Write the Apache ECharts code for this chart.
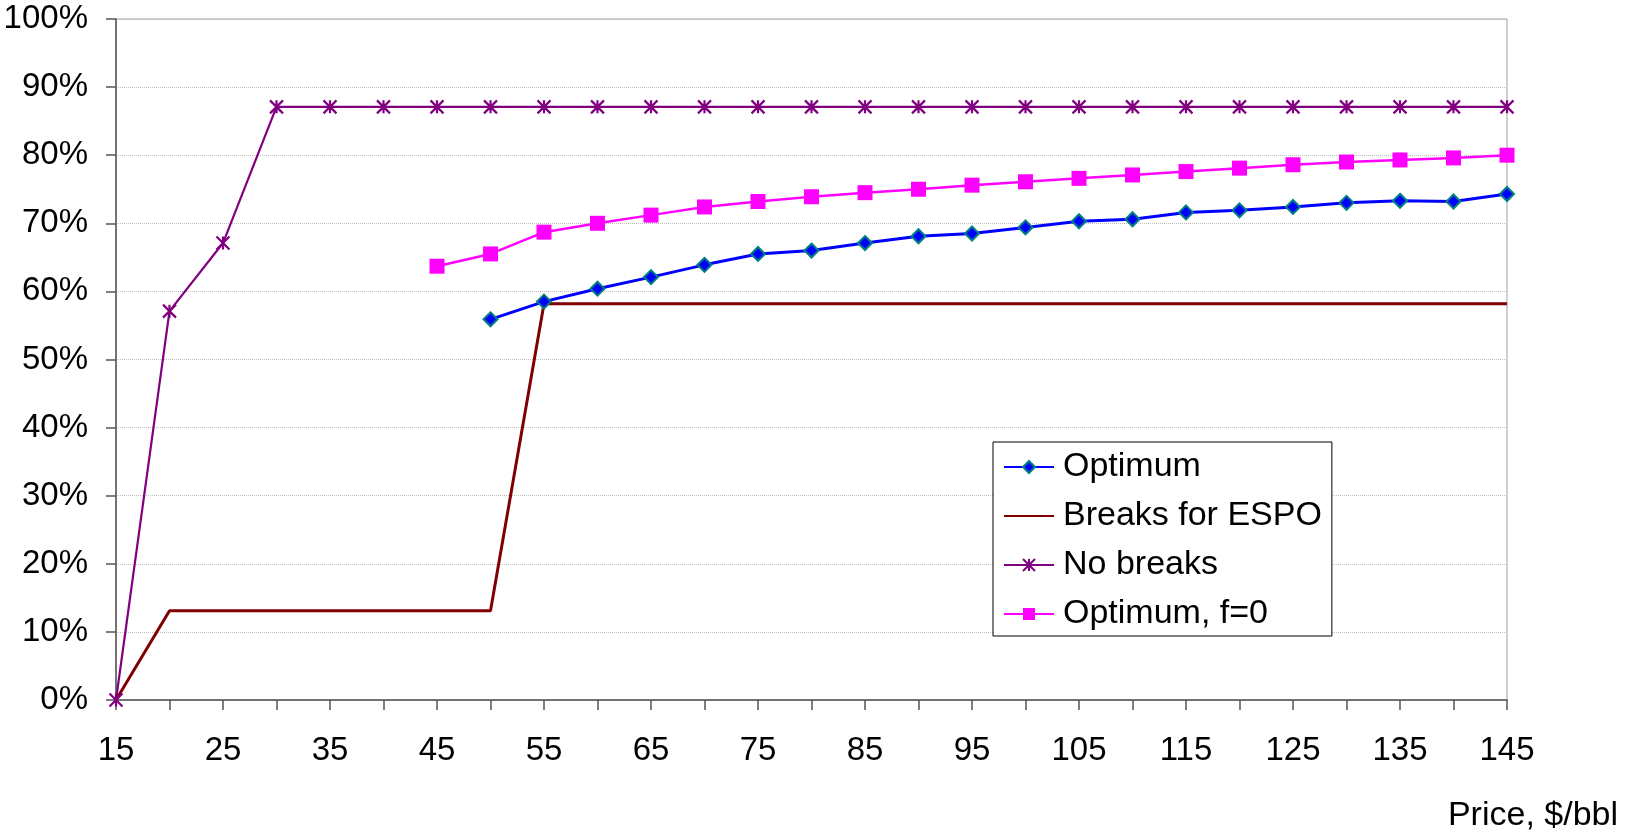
<!DOCTYPE html>
<html>
<head>
<meta charset="utf-8">
<script src="https://cdn.jsdelivr.net/npm/echarts@6/dist/echarts.min.js"></script>
<style>
html,body{margin:0;padding:0;background:#fff;}
#chart{width:1626px;height:832px;}
</style>
</head>
<body>
<div id="chart"></div>
<script>
const categories = ['15','20','25','30','35','40','45','50','55','60','65','70','75','80','85','90','95','100','105','110','115','120','125','130','135','140','145'];
const optimum = [null,null,null,null,null,null,null,55.9,58.5,60.4,62.1,63.9,65.5,66.0,67.1,68.1,68.5,69.4,70.3,70.6,71.6,71.9,72.4,73.0,73.3,73.2,74.3];
const breaksESPO = [0,13.1,13.1,13.1,13.1,13.1,13.1,13.1,58.2,58.2,58.2,58.2,58.2,58.2,58.2,58.2,58.2,58.2,58.2,58.2,58.2,58.2,58.2,58.2,58.2,58.2,58.2];
const noBreaks = [0,57.1,67.1,87.1,87.1,87.1,87.1,87.1,87.1,87.1,87.1,87.1,87.1,87.1,87.1,87.1,87.1,87.1,87.1,87.1,87.1,87.1,87.1,87.1,87.1,87.1,87.1];
const optimumF0 = [null,null,null,null,null,null,63.7,65.5,68.7,70.0,71.2,72.4,73.2,73.9,74.5,75.0,75.6,76.1,76.6,77.1,77.6,78.1,78.6,79.0,79.3,79.6,80.0];

const FONT = "'Liberation Sans', Arial, sans-serif";
const chart = echarts.init(document.getElementById('chart'));
chart.setOption({
  animation: false,
  backgroundColor: '#fff',
  textStyle: {fontFamily: FONT, color: '#000'},
  title: {
    text: 'Price, $/bbl', right: 3, top: 794,
    textStyle: {fontFamily: FONT, fontSize: 34, fontWeight: 'normal', color: '#000'}
  },
  grid: {left: 116, right: 119, top: 19, bottom: 132, show: true, borderColor: '#a0a0a0', borderWidth: 1, containLabel: false},
  legend: {
    orient: 'vertical', left: 993, top: 442,
    itemWidth: 50, itemHeight: 15, itemGap: 15,
    padding: [8, 10, 5, 10],
    backgroundColor: '#fff', borderColor: '#000', borderWidth: 1,
    textStyle: {fontFamily: FONT, fontSize: 34, color: '#000', lineHeight: 32, padding: [0,0,0,4]},
    data: [
      'Optimum',
      {name: 'Breaks for ESPO', itemStyle: {color: 'transparent', borderWidth: 0, opacity: 0}},
      'No breaks',
      'Optimum, f=0'
    ]
  },
  xAxis: {
    type: 'category', data: categories, boundaryGap: false,
    axisLine: {lineStyle: {color: '#555', width: 1.5}},
    axisTick: {interval: 0, length: 10, lineStyle: {color: '#555', width: 1.5}},
    axisLabel: {interval: 1, margin: 34, fontSize: 33, fontFamily: FONT, color: '#000'},
    splitLine: {show: false}
  },
  yAxis: {
    type: 'value', min: 0, max: 100, interval: 10,
    axisLine: {show: true, lineStyle: {color: '#555', width: 1.5}},
    axisTick: {show: true, length: 10, lineStyle: {color: '#555', width: 1.5}},
    axisLabel: {formatter: '{value}%', margin: 28, fontSize: 33, fontFamily: FONT, color: '#000'},
    splitLine: {lineStyle: {color: '#bdbdbd', type: 'dotted', width: 1}}
  },
  series: [
    {
      name: 'Breaks for ESPO', type: 'line', data: breaksESPO, z: 2,
      showSymbol: false, symbol: 'none', symbolSize: 0,
      lineStyle: {color: '#800000', width: 3}, itemStyle: {color: '#800000'}
    },
    {
      name: 'No breaks', type: 'line', data: noBreaks, z: 3,
      symbol: 'path://M0,0 L10,10 M10,0 L0,10 M5,0 L5,10', symbolSize: 13,
      lineStyle: {color: '#800080', width: 2.2},
      itemStyle: {color: 'transparent', borderColor: '#800080', borderWidth: 2.2}
    },
    {
      name: 'Optimum', type: 'line', data: optimum, z: 4,
      symbol: 'diamond', symbolSize: 14,
      lineStyle: {color: '#0000ff', width: 3},
      itemStyle: {color: '#0000ff', borderColor: '#008080', borderWidth: 2}
    },
    {
      name: 'Optimum, f=0', type: 'line', data: optimumF0, z: 5,
      symbol: 'rect', symbolSize: 15,
      lineStyle: {color: '#ff00ff', width: 2.5},
      itemStyle: {color: '#ff00ff'}
    }
  ]
});
</script>
</body>
</html>
